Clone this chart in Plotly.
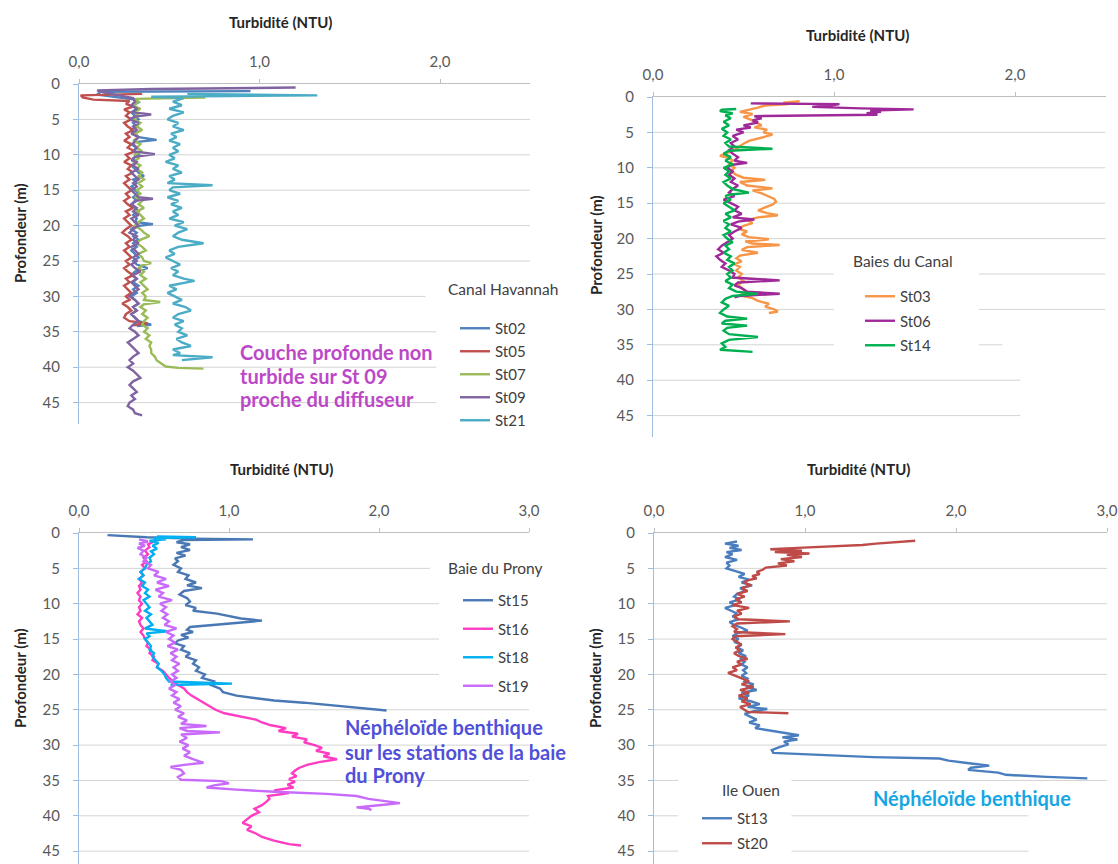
import plotly.graph_objects as go

W, H = 1118, 864

# ---------------- DATA (depth m, turbidity NTU) ----------------
# Canal Havannah
ST02 = [(1.0,0.95),(1.1,0.12),(1.5,0.10),(1.8,0.20),(2.2,0.31),(2.6,0.33),(3.0,0.30),(3.5,0.32),(4.0,0.29),(4.5,0.31),
        (5.0,0.33),(5.5,0.30),(6.0,0.32),(6.5,0.29),(7.0,0.31),(7.5,0.33),(7.9,0.43),(8.2,0.31),(8.5,0.29),(9.0,0.32),
        (9.5,0.30),(10.0,0.33),(10.5,0.30),(11.0,0.32),(11.5,0.29),(12.0,0.31),(12.5,0.33),(13.0,0.36),(13.5,0.30),(14.0,0.32),
        (14.5,0.29),(15.0,0.31),(15.5,0.33),(16.0,0.30),(16.5,0.32),(17.0,0.29),(17.5,0.31),(18.0,0.33),(18.5,0.30),(19.0,0.32),
        (19.5,0.31),(19.8,0.41),(20.1,0.31),(20.5,0.29),(21.0,0.32),(21.5,0.30),(22.0,0.33),(22.5,0.30),(23.0,0.32),(23.5,0.29),
        (24.0,0.31),(24.5,0.33),(25.0,0.30),(25.5,0.32),(26.0,0.38),(26.5,0.31),(27.0,0.29),(27.5,0.32),(28.0,0.30),(28.5,0.33),
        (29.0,0.30),(29.5,0.32),(30.0,0.29),(30.5,0.31),(31.0,0.33),(31.5,0.30),(32.0,0.32),(32.5,0.29),(33.0,0.31),(33.5,0.33),
        (34.0,0.40),(34.2,0.32)]
ST05 = [(1.4,0.35),(1.6,0.01),(1.9,0.02),(2.2,0.08),(2.4,0.28),(2.8,0.26),(3.2,0.30),(3.6,0.25),(4.0,0.28),(4.5,0.26),
        (5.0,0.29),(5.5,0.25),(6.0,0.27),(6.5,0.30),(7.0,0.26),(7.5,0.28),(8.0,0.25),(8.5,0.29),(9.0,0.27),(9.5,0.31),
        (10.0,0.26),(10.5,0.28),(11.0,0.25),(11.5,0.29),(12.0,0.27),(12.5,0.30),(13.0,0.26),(13.5,0.28),(14.0,0.25),(14.5,0.27),
        (15.0,0.29),(15.5,0.26),(16.0,0.28),(16.5,0.25),(17.0,0.27),(17.5,0.30),(18.0,0.26),(18.5,0.28),(19.0,0.25),(19.5,0.27),
        (20.0,0.29),(20.5,0.26),(21.0,0.24),(21.5,0.27),(22.0,0.29),(22.5,0.26),(23.0,0.28),(23.5,0.25),(24.0,0.27),(24.5,0.29),
        (25.0,0.26),(25.5,0.28),(26.0,0.25),(26.5,0.27),(27.0,0.30),(27.5,0.26),(28.0,0.28),(28.5,0.25),(29.0,0.27),(29.5,0.29),
        (30.0,0.26),(30.5,0.28),(31.0,0.24),(31.5,0.27),(32.0,0.29),(32.5,0.26),(33.0,0.25),(33.5,0.28),(33.8,0.38),(34.1,0.30)]
ST07 = [(1.9,0.70),(2.1,0.31),(2.5,0.33),(3.0,0.30),(3.5,0.34),(4.0,0.31),(4.5,0.33),(5.0,0.30),(5.5,0.34),(6.0,0.32),
        (6.5,0.35),(7.0,0.31),(7.5,0.33),(8.0,0.30),(8.5,0.34),(9.0,0.32),(9.5,0.35),(10.0,0.31),(10.5,0.33),(11.0,0.30),
        (11.5,0.34),(12.0,0.32),(12.5,0.35),(13.0,0.33),(13.5,0.36),(14.0,0.33),(14.5,0.35),(15.0,0.32),(15.5,0.34),(16.0,0.31),
        (16.5,0.35),(17.0,0.33),(17.5,0.36),(18.0,0.32),(18.5,0.34),(19.0,0.36),(19.5,0.33),(20.0,0.31),(20.5,0.34),(21.0,0.36),
        (21.5,0.39),(22.0,0.34),(22.5,0.32),(23.0,0.35),(23.5,0.37),(24.0,0.33),(24.5,0.35),(25.0,0.36),(25.3,0.40),(25.6,0.35),
        (26.0,0.33),(26.5,0.36),(27.0,0.34),(27.5,0.37),(28.0,0.34),(28.5,0.36),(29.0,0.38),(29.5,0.35),(30.0,0.37),(30.5,0.36),
        (30.8,0.45),(31.1,0.36),(31.5,0.34),(32.0,0.37),(32.5,0.35),(33.0,0.38),(33.5,0.36),(34.0,0.35),(34.5,0.38),(35.0,0.36),
        (35.5,0.39),(36.0,0.37),(36.5,0.40),(37.0,0.39),(37.5,0.40),(38.0,0.40),(38.5,0.42),(39.0,0.43),(39.5,0.46),(39.9,0.48),
        (40.1,0.55),(40.2,0.69)]
ST09 = [(0.5,1.20),(0.7,0.40),(0.9,0.10),(1.2,0.14),(1.6,0.22),(2.0,0.30),(2.5,0.31),(3.0,0.29),(3.5,0.32),(4.0,0.30),
        (4.3,0.40),(4.6,0.31),(5.0,0.28),(5.5,0.33),(6.0,0.30),(6.5,0.32),(7.0,0.29),(7.5,0.33),(8.0,0.31),(8.5,0.30),
        (9.0,0.32),(9.5,0.30),(9.9,0.42),(10.3,0.31),(10.8,0.29),(11.0,0.32),(11.5,0.30),(12.0,0.33),(12.5,0.29),(13.0,0.31),
        (13.5,0.33),(14.0,0.30),(14.5,0.32),(15.0,0.29),(15.5,0.31),(16.0,0.33),(16.2,0.41),(16.5,0.31),(17.0,0.29),(17.5,0.32),
        (18.0,0.30),(18.5,0.33),(19.0,0.29),(19.5,0.31),(20.0,0.33),(20.5,0.30),(21.0,0.28),(21.5,0.32),(22.0,0.30),(22.5,0.33),
        (23.0,0.29),(23.5,0.31),(24.0,0.33),(24.5,0.30),(25.0,0.32),(25.5,0.29),(26.0,0.31),(26.5,0.34),(27.0,0.30),(27.5,0.32),
        (28.0,0.29),(28.5,0.31),(29.0,0.33),(29.5,0.30),(30.0,0.28),(30.5,0.31),(31.0,0.33),(31.5,0.30),(32.0,0.32),(32.5,0.29),
        (33.0,0.31),(33.5,0.33),(34.0,0.30),(34.5,0.28),(35.0,0.31),(35.5,0.33),(36.0,0.30),(36.5,0.27),(37.0,0.29),(37.5,0.31),
        (38.0,0.33),(38.5,0.30),(39.0,0.28),(39.5,0.30),(40.0,0.27),(40.5,0.30),(41.0,0.32),(41.5,0.34),(42.0,0.30),(42.5,0.28),
        (43.0,0.30),(43.5,0.32),(44.0,0.29),(44.5,0.31),(45.0,0.28),(45.5,0.27),(46.0,0.30),(46.5,0.31),(46.8,0.35)]
ST21 = [(1.4,0.60),(1.6,1.32),(1.8,0.40),(2.0,0.58),(2.5,0.52),(3.0,0.57),(3.5,0.50),(4.0,0.58),(4.5,0.52),(5.0,0.49),
        (5.5,0.55),(6.0,0.52),(6.5,0.58),(7.0,0.51),(7.5,0.54),(8.0,0.50),(8.5,0.56),(9.0,0.52),(9.5,0.55),(10.0,0.50),
        (10.5,0.53),(11.0,0.48),(11.5,0.55),(12.0,0.52),(12.5,0.57),(13.0,0.50),(13.5,0.53),(14.0,0.49),(14.3,0.74),(14.6,0.52),
        (15.0,0.50),(15.5,0.56),(16.0,0.49),(16.5,0.55),(17.0,0.51),(17.5,0.57),(18.0,0.52),(18.5,0.55),(19.0,0.50),(19.5,0.58),
        (20.0,0.53),(20.5,0.60),(21.0,0.55),(21.5,0.52),(22.0,0.57),(22.5,0.69),(23.0,0.55),(23.5,0.50),(24.0,0.53),(24.5,0.48),
        (25.0,0.52),(25.5,0.56),(26.0,0.51),(26.5,0.55),(27.0,0.52),(27.5,0.58),(27.8,0.64),(28.2,0.55),(28.5,0.50),(29.0,0.54),
        (29.5,0.49),(30.0,0.53),(30.5,0.57),(31.0,0.52),(31.5,0.59),(32.0,0.62),(32.5,0.55),(33.0,0.52),(33.5,0.58),(34.0,0.53),
        (34.5,0.57),(35.0,0.55),(35.5,0.60),(36.0,0.54),(36.5,0.57),(37.0,0.62),(37.5,0.52),(38.0,0.56),(38.3,0.52),(38.6,0.74),
        (38.9,0.58),(39.0,0.57)]

# Baies du Canal
ST03 = [(0.6,0.81),(0.8,0.72),(1.0,0.75),(1.2,0.62),(1.5,0.58),(1.8,0.53),(2.1,0.48),(2.4,0.55),(2.8,0.50),(3.2,0.54),
        (3.6,0.57),(4.0,0.60),(4.3,0.56),(4.6,0.63),(5.0,0.61),(5.3,0.66),(5.6,0.62),(5.9,0.58),(6.2,0.53),(6.6,0.50),
        (7.0,0.48),(7.5,0.45),(8.0,0.40),(8.3,0.37),(8.6,0.42),(9.0,0.44),(9.5,0.42),(10.0,0.45),(10.5,0.43),(11.0,0.46),
        (11.4,0.50),(11.7,0.62),(12.0,0.48),(12.5,0.52),(12.9,0.66),(13.2,0.55),(13.6,0.60),(14.0,0.64),(14.4,0.67),(14.8,0.68),
        (15.2,0.66),(15.6,0.62),(16.0,0.58),(16.4,0.63),(16.7,0.69),(17.0,0.58),(17.4,0.52),(17.8,0.55),(18.2,0.50),(18.6,0.47),
        (19.0,0.52),(19.4,0.49),(19.8,0.53),(20.1,0.64),(20.4,0.51),(20.7,0.55),(20.9,0.70),(21.2,0.52),(21.6,0.49),(22.0,0.58),
        (22.4,0.48),(22.8,0.46),(23.2,0.49),(23.6,0.45),(24.0,0.48),(24.5,0.46),(25.0,0.49),(25.5,0.47),(26.0,0.50),(26.5,0.47),
        (27.0,0.49),(27.5,0.52),(28.0,0.48),(28.4,0.55),(28.8,0.58),(29.2,0.64),(29.6,0.62),(30.0,0.67),(30.3,0.69),(30.5,0.64)]
ST06 = [(0.9,0.54),(1.0,1.03),(1.2,0.98),(1.4,0.88),(1.6,1.15),(1.75,1.44),(1.9,1.20),(2.1,1.26),(2.3,1.18),(2.5,1.24),
        (2.7,0.56),(3.0,0.60),(3.3,0.55),(3.6,0.58),(4.0,0.50),(4.3,0.54),(4.6,0.46),(5.0,0.50),(5.5,0.44),(6.0,0.47),
        (6.5,0.43),(7.0,0.45),(7.5,0.42),(8.0,0.44),(8.5,0.47),(9.0,0.45),(9.3,0.52),(9.6,0.43),(10.0,0.41),(10.5,0.44),
        (11.0,0.42),(11.5,0.45),(12.0,0.43),(12.5,0.47),(13.0,0.44),(13.5,0.42),(14.0,0.45),(14.5,0.39),(15.0,0.43),(15.5,0.47),
        (16.0,0.45),(16.5,0.49),(17.0,0.44),(17.3,0.56),(17.6,0.47),(18.0,0.43),(18.5,0.49),(19.0,0.45),(19.5,0.42),(20.0,0.44),
        (20.5,0.41),(21.0,0.38),(21.5,0.36),(22.0,0.39),(22.5,0.35),(23.0,0.37),(23.5,0.40),(24.0,0.38),(24.5,0.42),(25.0,0.45),
        (25.5,0.44),(25.9,0.70),(26.2,0.47),(26.6,0.45),(27.0,0.49),(27.5,0.52),(27.8,0.70),(28.1,0.48),(28.3,0.45)]
ST14 = [(1.7,0.46),(1.8,0.38),(2.0,0.37),(2.3,0.44),(2.6,0.40),(3.0,0.43),(3.5,0.39),(4.0,0.42),(4.5,0.38),(5.0,0.41),
        (5.5,0.39),(6.0,0.43),(6.5,0.40),(7.0,0.42),(7.3,0.66),(7.6,0.42),(8.0,0.39),(8.5,0.43),(9.0,0.40),(9.5,0.44),
        (10.0,0.39),(10.5,0.42),(11.0,0.40),(11.5,0.43),(12.0,0.39),(12.5,0.41),(13.0,0.44),(13.5,0.53),(13.8,0.42),(14.0,0.40),
        (14.5,0.43),(15.0,0.39),(15.5,0.42),(16.0,0.45),(16.5,0.40),(17.0,0.43),(17.5,0.39),(18.0,0.42),(18.5,0.40),(19.0,0.43),
        (19.5,0.39),(20.0,0.41),(20.5,0.44),(21.0,0.40),(21.5,0.42),(22.0,0.39),(22.5,0.43),(23.0,0.41),(23.5,0.45),(24.0,0.42),
        (24.5,0.44),(25.0,0.41),(25.5,0.43),(26.0,0.40),(26.5,0.44),(27.0,0.42),(27.5,0.46),(27.8,0.58),(28.1,0.44),(28.5,0.40),
        (29.0,0.38),(29.5,0.42),(30.0,0.39),(30.5,0.37),(31.0,0.41),(31.3,0.52),(31.6,0.40),(32.0,0.38),(32.3,0.52),(32.6,0.41),
        (33.0,0.39),(33.5,0.42),(33.9,0.58),(34.3,0.42),(34.8,0.38),(35.3,0.40),(35.7,0.37),(36.0,0.55)]

# Baie du Prony
ST15 = [(0.3,0.19),(0.6,0.45),(0.8,0.75),(0.9,1.16),(1.0,0.70),(1.3,0.65),(1.6,0.74),(2.0,0.68),(2.4,0.74),(2.8,0.65),
        (3.2,0.71),(3.6,0.64),(4.0,0.66),(4.5,0.63),(5.0,0.68),(5.5,0.66),(6.0,0.73),(6.5,0.71),(7.0,0.78),(7.4,0.72),
        (7.8,0.82),(8.2,0.70),(8.7,0.67),(9.2,0.72),(9.7,0.74),(10.2,0.71),(10.6,0.78),(11.0,0.76),(11.4,0.92),(11.8,1.00),
        (12.1,1.08),(12.4,1.22),(12.7,1.06),(13.0,0.93),(13.3,0.74),(13.7,0.72),(14.0,0.76),(14.4,0.68),(14.8,0.73),(15.2,0.66),
        (15.6,0.64),(16.0,0.70),(16.5,0.68),(17.0,0.74),(17.5,0.71),(18.0,0.78),(18.5,0.76),(19.0,0.80),(19.5,0.78),(20.0,0.84),
        (20.5,0.82),(21.0,0.90),(21.5,0.88),(22.0,0.94),(22.5,0.96),(23.0,1.05),(23.4,1.20),(23.7,1.30),(24.0,1.50),(24.4,1.70),
        (24.8,1.90),(25.1,2.05)]
ST16 = [(1.2,0.50),(1.6,0.46),(2.0,0.47),(2.5,0.44),(3.0,0.46),(3.5,0.43),(4.0,0.45),(4.5,0.42),(5.0,0.44),(5.5,0.41),
        (6.0,0.43),(6.5,0.40),(7.0,0.42),(7.5,0.40),(8.0,0.41),(8.5,0.39),(9.0,0.41),(9.5,0.40),(10.0,0.42),(10.5,0.40),
        (11.0,0.41),(11.5,0.39),(12.0,0.42),(12.5,0.40),(13.0,0.41),(13.5,0.43),(14.0,0.41),(14.5,0.43),(15.0,0.44),(15.5,0.46),
        (16.0,0.45),(16.5,0.48),(17.0,0.47),(17.5,0.50),(18.0,0.49),(18.5,0.53),(19.0,0.52),(19.5,0.56),(20.0,0.58),(20.5,0.60),
        (21.0,0.63),(21.5,0.66),(22.0,0.70),(22.5,0.72),(23.0,0.75),(23.5,0.79),(24.0,0.83),(24.5,0.87),(25.0,0.91),(25.5,0.97),
        (26.0,1.10),(26.4,1.18),(26.8,1.22),(27.2,1.28),(27.6,1.38),(28.0,1.33),(28.4,1.46),(28.8,1.42),(29.2,1.52),(29.6,1.50),
        (30.0,1.57),(30.4,1.62),(30.8,1.58),(31.2,1.67),(31.6,1.63),(32.0,1.72),(32.4,1.60),(32.8,1.52),(33.2,1.47),(33.6,1.44),
        (34.0,1.42),(34.4,1.45),(34.8,1.40),(35.2,1.44),(35.6,1.39),(36.0,1.43),(36.4,1.30),(36.8,1.40),(37.2,1.26),(37.6,1.27),
        (38.0,1.25),(38.5,1.22),(39.0,1.17),(39.5,1.20),(40.0,1.15),(40.5,1.12),(41.0,1.09),(41.5,1.15),(42.0,1.12),(42.5,1.18),
        (43.0,1.22),(43.5,1.30),(44.0,1.40),(44.2,1.48)]
ST18 = [(0.5,0.52),(0.6,0.78),(0.7,0.50),(0.9,0.58),(1.1,0.47),(1.4,0.53),(1.8,0.49),(2.2,0.52),(2.6,0.48),(3.0,0.50),
        (3.5,0.47),(4.0,0.48),(4.5,0.45),(5.0,0.44),(5.5,0.41),(6.0,0.43),(6.5,0.40),(7.0,0.44),(7.5,0.42),(8.0,0.46),
        (8.5,0.44),(9.0,0.47),(9.5,0.43),(10.0,0.45),(10.5,0.47),(11.0,0.44),(11.5,0.48),(12.0,0.45),(12.5,0.47),(13.0,0.49),
        (13.5,0.44),(13.9,0.59),(14.2,0.45),(14.6,0.47),(15.0,0.44),(15.5,0.46),(16.0,0.48),(16.5,0.47),(17.0,0.50),(17.5,0.49),
        (18.0,0.51),(18.5,0.53),(19.0,0.52),(19.5,0.55),(20.0,0.57),(20.5,0.58),(21.0,0.60),(21.3,1.02),(21.5,0.61)]
ST19 = [(0.9,0.40),(1.2,0.46),(1.5,0.40),(1.8,0.44),(2.1,0.39),(2.5,0.43),(3.0,0.41),(3.5,0.45),(4.0,0.43),(4.5,0.48),
        (5.0,0.46),(5.5,0.53),(6.0,0.50),(6.5,0.58),(7.0,0.52),(7.5,0.60),(8.0,0.51),(8.5,0.56),(9.0,0.53),(9.5,0.62),
        (10.0,0.54),(10.5,0.58),(11.0,0.55),(11.5,0.59),(12.0,0.56),(12.5,0.60),(13.0,0.57),(13.5,0.65),(14.0,0.58),(14.5,0.63),
        (15.0,0.60),(15.5,0.64),(16.0,0.59),(16.5,0.66),(17.0,0.61),(17.5,0.65),(18.0,0.62),(18.5,0.67),(19.0,0.63),(19.5,0.66),
        (20.0,0.62),(20.5,0.65),(21.0,0.61),(21.5,0.64),(22.0,0.60),(22.5,0.65),(23.0,0.62),(23.5,0.67),(24.0,0.63),(24.5,0.68),
        (25.0,0.64),(25.5,0.70),(26.0,0.66),(26.5,0.72),(27.0,0.68),(27.3,0.85),(27.6,0.67),(28.0,0.72),(28.2,0.94),(28.5,0.68),
        (29.0,0.72),(29.5,0.67),(30.0,0.73),(30.5,0.69),(31.0,0.74),(31.5,0.70),(32.0,0.76),(32.5,0.83),(32.8,0.70),(33.1,0.61),
        (33.5,0.68),(34.0,0.70),(34.5,0.66),(34.9,0.68),(35.1,0.95),(35.4,1.00),(35.7,0.90),(36.0,0.85),(36.3,1.05),(36.6,1.30),
        (36.9,1.65),(37.2,1.85),(37.6,1.93),(38.0,2.05),(38.2,2.14),(38.5,2.00),(38.8,1.85),(39.0,1.93),(39.2,1.95)]

# Ile Ouen
ST13 = [(1.2,0.55),(1.5,0.47),(1.8,0.56),(2.1,0.50),(2.4,0.58),(2.7,0.48),(3.0,0.52),(3.4,0.47),(3.8,0.55),(4.2,0.48),
        (4.6,0.50),(5.0,0.48),(5.4,0.54),(5.8,0.60),(6.2,0.56),(6.6,0.63),(7.0,0.58),(7.4,0.65),(7.8,0.57),(8.2,0.61),
        (8.6,0.55),(9.0,0.53),(9.4,0.57),(9.8,0.50),(10.2,0.54),(10.6,0.47),(11.0,0.51),(11.4,0.55),(11.8,0.52),(12.2,0.56),
        (12.6,0.50),(13.0,0.53),(13.4,0.58),(13.8,0.62),(14.2,0.55),(14.6,0.52),(15.0,0.56),(15.4,0.53),(15.8,0.58),(16.2,0.55),
        (16.6,0.59),(17.0,0.56),(17.4,0.61),(17.8,0.57),(18.2,0.60),(18.6,0.58),(19.0,0.62),(19.4,0.59),(19.8,0.61),(20.2,0.58),
        (20.6,0.62),(21.0,0.60),(21.4,0.66),(21.8,0.61),(22.2,0.68),(22.6,0.58),(23.0,0.63),(23.4,0.56),(23.8,0.64),(24.2,0.70),
        (24.6,0.62),(24.9,0.75),(25.2,0.66),(25.6,0.60),(26.0,0.64),(26.4,0.68),(26.8,0.63),(27.2,0.70),(27.6,0.67),(28.0,0.78),
        (28.3,0.88),(28.6,0.96),(28.9,0.85),(29.2,0.95),(29.5,0.86),(29.9,0.89),(30.3,0.83),(30.7,0.78),(31.1,0.79),(31.3,1.01),
        (31.7,1.45),(31.9,1.89),(32.2,1.95),(32.6,2.10),(32.9,2.22),(33.2,2.10),(33.5,2.08),(33.9,2.28),(34.2,2.33),(34.5,2.60),
        (34.7,2.87)]
ST20 = [(1.1,1.73),(1.3,1.60),(1.4,1.48),(1.5,1.47),(1.7,1.38),(1.9,1.10),(2.1,0.95),(2.3,0.77),(2.5,0.98),(2.7,0.80),
        (2.9,1.03),(3.1,0.88),(3.4,0.98),(3.7,0.84),(4.0,0.93),(4.3,0.82),(4.6,0.88),(4.9,0.74),(5.2,0.72),(5.5,0.68),
        (5.8,0.70),(6.1,0.65),(6.4,0.68),(6.7,0.62),(7.0,0.60),(7.4,0.64),(7.8,0.58),(8.2,0.62),(8.6,0.55),(9.0,0.60),
        (9.4,0.54),(9.8,0.58),(10.2,0.52),(10.6,0.63),(11.0,0.55),(11.4,0.58),(11.8,0.53),(12.2,0.56),(12.5,0.90),(12.8,0.55),
        (13.2,0.52),(13.6,0.55),(14.0,0.53),(14.3,0.87),(14.6,0.54),(15.0,0.52),(15.4,0.55),(15.8,0.58),(16.2,0.54),(16.6,0.57),
        (17.0,0.53),(17.4,0.56),(17.8,0.62),(18.2,0.55),(18.6,0.58),(19.0,0.52),(19.4,0.55),(19.8,0.49),(20.2,0.54),(20.6,0.59),
        (21.0,0.63),(21.4,0.58),(21.8,0.66),(22.2,0.57),(22.6,0.63),(23.0,0.56),(23.4,0.62),(23.8,0.58),(24.2,0.64),(24.6,0.57),
        (25.0,0.60),(25.3,0.62),(25.5,0.89)]

GROUP_TITLES = ["Canal Havannah", "Baies du Canal", "Baie du Prony", "Ile Ouen"]
X_TITLE = "Turbidité (NTU)"
Y_TITLE = "Profondeur (m)"
NOTE1 = ["Couche profonde non", "turbide sur St 09", "proche du diffuseur"]
NOTE3 = ["Néphéloïde benthique", "sur les stations de la baie", "du Prony"]
NOTE4 = ["Néphéloïde benthique"]

# ---------------- STYLE / LAYOUT ----------------
FONT = "Lato"
TICK_COL = "#595959"
GRID_COL = "#d4d4d4"
YLINE_COL = "#9dbde3"

panels = [
    dict(x0=79, ppu=180.5, xmax=2.5, y0=84, ppm=7.08, ymax=48,
         series=[("St02", ST02, "#4F81BD"), ("St05", ST05, "#C0504D"), ("St07", ST07, "#9BBB59"),
                 ("St09", ST09, "#8064A2"), ("St21", ST21, "#4BACC6")],
         leg_left=455, leg_first=328, leg_gap=0.5,
         title_pos=(446, 289), xt=(280, 22), yt=(20, 233),
         grid=[(5, 0, 2.5), (10, 0, 2.5), (15, 0, 2.5), (20, 0, 2.5), (25, 0, 2.5), (30, 0, 1.92),
               (35, 0, 1.98), (40, 0, 1.98), (45, 0, 1.98)]),
    dict(x0=653, ppu=181, xmax=2.5, y0=97, ppm=7.08, ymax=48,
         series=[("St03", ST03, "#F79646"), ("St06", ST06, "#A0299A"), ("St14", ST14, "#00B050")],
         leg_left=860, leg_first=296, leg_gap=2,
         title_pos=(851, 261), xt=(857, 35), yt=(596, 245),
         grid=[(5, 0, 2.5), (10, 0, 2.5), (15, 0, 2.5), (20, 0, 2.5), (25, 0, 1.0), (25, 1.80, 2.5),
               (30, 0, 1.0), (30, 1.80, 2.5), (35, 0, 1.0), (35, 1.80, 1.93), (40, 0, 2.03), (45, 0, 2.03)]),
    dict(x0=79, ppu=150, xmax=3.0, y0=533, ppm=7.07, ymax=46.8,
         series=[("St15", ST15, "#4A78B4"), ("St16", ST16, "#FF3CC2"), ("St18", ST18, "#00B0F0"),
                 ("St19", ST19, "#C86BFA")],
         leg_left=458, leg_first=600, leg_gap=6,
         title_pos=(446, 568), xt=(281, 469), yt=(20, 678),
         grid=[(5, 0, 2.34), (10, 0, 2.4), (15, 0, 2.4), (20, 0, 2.4), (25, 0, 3.0), (30, 0, 3.0),
               (35, 0, 3.0), (40, 0, 3.0), (45, 0, 3.0)]),
    dict(x0=654, ppu=151, xmax=3.0, y0=533, ppm=7.07, ymax=46.8,
         series=[("St13", ST13, "#4A7EBF"), ("St20", ST20, "#BE4B48")],
         leg_left=697, leg_first=818, leg_gap=2.5,
         title_pos=(720, 790), xt=(858, 469), yt=(595, 678),
         grid=[(5, 0, 3.0), (10, 0, 3.0), (15, 0, 3.0), (20, 0, 3.0), (25, 0, 3.0), (30, 0, 3.0),
               (35, 0, 0.16), (35, 0.91, 3.0), (40, 0, 0.16), (40, 0.91, 2.48), (45, 0, 0.16), (45, 0.91, 2.48)]),
]


def px(x):
    return x / W


def py(y):
    return 1 - y / H


fig = go.Figure()
layout = dict(width=W, height=H, margin=dict(l=0, r=0, t=0, b=0, autoexpand=False), paper_bgcolor="white",
              plot_bgcolor="white", separators=", ", showlegend=True,
              font=dict(family=FONT, size=15, color=TICK_COL))
shapes, annotations = [], []

for i, p in enumerate(panels, start=1):
    xa = "x" if i == 1 else f"x{i}"
    ya = "y" if i == 1 else f"y{i}"
    leg = "legend" if i == 1 else f"legend{i}"
    for name, pts, col in p["series"]:
        d = [a for a, _ in pts]
        v = [b for _, b in pts]
        fig.add_trace(go.Scatter(x=v, y=d, mode="lines", name=name, xaxis=xa, yaxis=ya,
                                 line=dict(color=col, width=2.4), legend=leg, legendgroup=name))
    xdom = [px(p["x0"]), px(p["x0"] + p["ppu"] * p["xmax"])]
    ydom = [py(p["y0"] + p["ppm"] * p["ymax"]), py(p["y0"])]
    layout["xaxis" if i == 1 else f"xaxis{i}"] = dict(
        domain=xdom, range=[0, p["xmax"]], side="top", anchor=ya, tick0=0, dtick=1, tickformat=".1f",
        showline=True, linecolor="#bfbfbf", linewidth=1, ticks="outside", ticklen=4, tickcolor="#bfbfbf",
        showgrid=False, zeroline=False, automargin=False,
        tickfont=dict(family=FONT, size=15, color=TICK_COL), ticklabelstandoff=6)
    layout["yaxis" if i == 1 else f"yaxis{i}"] = dict(
        domain=ydom, range=[p["ymax"], 0], anchor=xa, tick0=0, dtick=5,
        showline=True, linecolor=YLINE_COL, linewidth=1.2, ticks="outside", ticklen=5, tickcolor=YLINE_COL,
        showgrid=False, zeroline=False, automargin=False,
        tickfont=dict(family=FONT, size=15, color=TICK_COL), ticklabelstandoff=10)
    for depth, xs, xe in p["grid"]:
        shapes.append(dict(type="line", xref=xa, yref=ya, x0=xs, x1=xe, y0=depth, y1=depth,
                           line=dict(color=GRID_COL, width=1), layer="below"))
    layout[leg] = dict(x=px(p["leg_left"]), y=py(p["leg_first"] - 16), xanchor="left", yanchor="top",
                       bgcolor="rgba(0,0,0,0)", borderwidth=0, traceorder="grouped",
                       tracegroupgap=p["leg_gap"], font=dict(family=FONT, size=15, color="#404040"),
                       itemclick=False, itemdoubleclick=False)
    annotations.append(dict(text=GROUP_TITLES[i - 1], x=px(p["title_pos"][0]), y=py(p["title_pos"][1]),
                            xref="paper", yref="paper", xanchor="left", yanchor="middle", showarrow=False,
                            font=dict(family=FONT, size=15.5, color="#404040")))
    annotations.append(dict(text=f"<b>{X_TITLE}</b>", x=px(p["xt"][0]), y=py(p["xt"][1]), xref="paper",
                            yref="paper", xanchor="center", yanchor="middle", showarrow=False,
                            font=dict(family=FONT, size=15, color="#262626")))
    annotations.append(dict(text=f"<b>{Y_TITLE}</b>", x=px(p["yt"][0]), y=py(p["yt"][1]), xref="paper",
                            yref="paper", xanchor="center", yanchor="middle", showarrow=False, textangle=-90,
                            font=dict(family=FONT, size=15, color="#262626")))


def add_note(lines, x, ys, color):
    for line, yy in zip(lines, ys):
        annotations.append(dict(text=f"<b>{line}</b>", x=px(x), y=py(yy), xref="paper", yref="paper",
                                xanchor="left", yanchor="middle", align="left", showarrow=False,
                                font=dict(family=FONT, size=20, color=color)))


add_note(NOTE1, 238, [352, 376, 399], "#BC48C8")
add_note(NOTE3, 343, [727, 752, 775], "#5050D8")
add_note(NOTE4, 871, [798], "#17A6E4")

layout["shapes"] = shapes
layout["annotations"] = annotations
fig.update_layout(**layout)
fig.write_html("out.html", config={"displayModeBar": False},
               post_script="document.body.style.margin='0';document.body.style.padding='0';"
                           "document.body.style.overflow='hidden';")
